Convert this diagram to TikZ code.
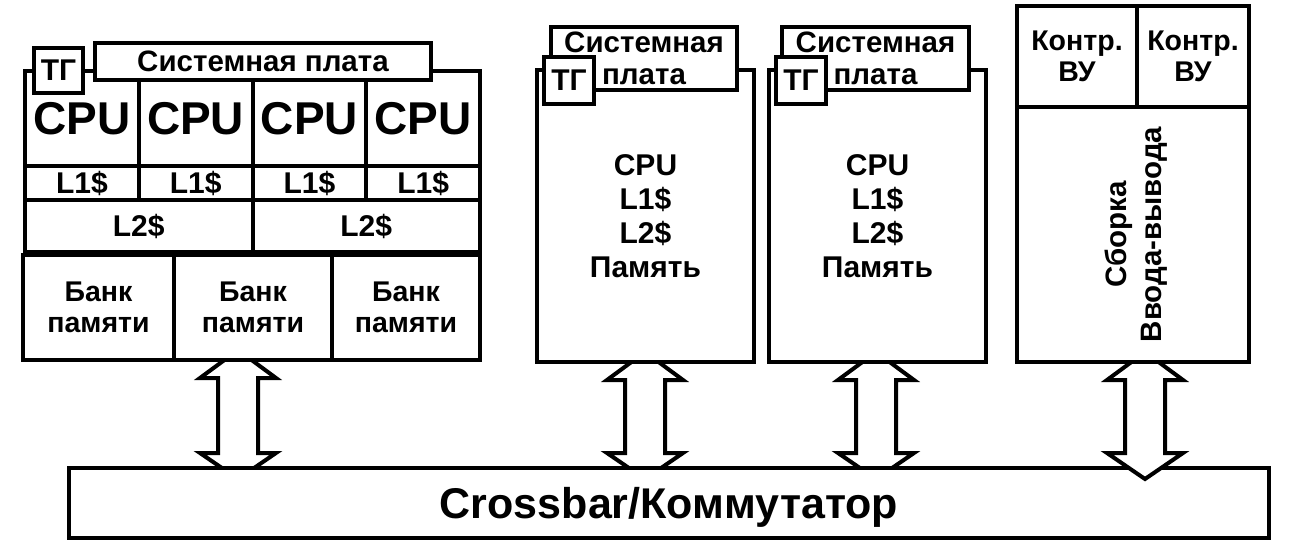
\documentclass[tikz,border=0pt]{standalone}
\usepackage{fontspec}
\setmainfont{Liberation Sans}
\usetikzlibrary{calc}

\pgfdeclarelayer{under}
\pgfdeclarelayer{bus}
\pgfdeclarelayer{over}
\pgfsetlayers{under,bus,over,main}

% hollow double arrow between a box (#2) and the crossbar (#3) at x=#1
\newcommand{\busarrow}[3]{%
  \draw[fatarrow] ($(#1,0 |- #2.south)+(0,-12)$) -- ++(38,28) -- ++(-18,0)
    -- ($(#1,0 |- #3.north)+(20,-13)$) -- ++(18,0) -- ++(-38,26) -- ++(-38,-26) -- ++(18,0)
    -- ($(#1,0 |- #2.south)+(-20,16)$) -- ++(-18,0) -- cycle;
}

\begin{document}
\begin{tikzpicture}[x=1pt, y=-1pt,
    box/.style={draw, line width=4pt, fill=white, inner sep=0pt, align=center,
                font=\bfseries\fontsize{30}{34}\selectfont},
    big/.style={font=\bfseries\fontsize{46}{50}\selectfont},
    small/.style={font=\bfseries\fontsize{28.5}{31.5}\selectfont},
    plate/.style={font=\bfseries\fontsize{29.5}{32}\selectfont},
    fatarrow/.style={draw, fill=white, line width=4pt}]
    \useasboundingbox (0,0) rectangle (1298,545);

    % four-core system board
    \foreach \i in {1,...,4} {
        \node[box, big, minimum width=113.75pt, minimum height=95pt] (cpu\i) at (-31.875+113.75*\i,118.5) {CPU};
        \node[box, minimum width=113.75pt, minimum height=34pt] (lone\i) at (-31.875+113.75*\i,183) {L1\$};
    }
    \node[box, minimum width=227.5pt, minimum height=52pt] (ltwoA) at (138.75,226) {L2\$};
    \node[box, minimum width=227.5pt, minimum height=52pt] (ltwoB) at (366.25,226) {L2\$};
    \node[box, small, minimum width=151pt, minimum height=105pt] (bank1) at (98.5,307.5) {Банк\\памяти};
    \node[box, small, minimum width=158pt, minimum height=105pt] (bank2) at (253,307.5) {Банк\\памяти};
    \node[box, small, minimum width=148pt, minimum height=105pt] (bank3) at (406,307.5) {Банк\\памяти};
    \node[box, plate, minimum width=336pt, minimum height=37pt] (plataA) at (263,61.5) {Системная плата};
    \node[box, minimum width=49pt, minimum height=45pt] (tgA) at (58.5,70.5) {ТГ};

    % single nodes
    \node[box, minimum width=217pt, minimum height=292pt] (nodeB) at (645.5,216) {CPU\\L1\$\\L2\$\\Память};
    \node[box, plate, minimum width=186pt, minimum height=63pt] (plataB) at (644,58.5) {Системная\\плата};
    \node[box, minimum width=50pt, minimum height=47pt] (tgB) at (569,80.5) {ТГ};

    \node[box, minimum width=217pt, minimum height=292pt] (nodeC) at (877.5,216) {CPU\\L1\$\\L2\$\\Память};
    \node[box, plate, minimum width=187pt, minimum height=63pt] (plataC) at (875.5,58.5) {Системная\\плата};
    \node[box, minimum width=50pt, minimum height=47pt] (tgC) at (801,80.5) {ТГ};

    % I/O assembly
    \node[box, small, minimum width=120pt, minimum height=101pt] (ctlA) at (1077,56.5) {Контр.\\ВУ};
    \node[box, small, minimum width=112pt, minimum height=101pt] (ctlB) at (1193,56.5) {Контр.\\ВУ};
    \node[box, minimum width=232pt, minimum height=255pt] (io) at (1133,234.5) {};
    \node[rotate=90, align=center, inner sep=0pt, text depth=0pt,
          font=\bfseries\fontsize{29.5}{35}\selectfont] (iotext) at (io.center) {Сборка\\Ввода-вывода};

    \begin{pgfonlayer}{bus}
        \node[box, minimum width=1200pt, minimum height=70pt, text depth=0pt,
              font=\bfseries\fontsize{43}{46}\selectfont] (xbar) at (669,503) {Crossbar/Коммутатор};
    \end{pgfonlayer}

    \begin{pgfonlayer}{under}
        \busarrow{238}{bank2}{xbar}
        \busarrow{645}{nodeB}{xbar}
        \busarrow{876}{nodeC}{xbar}
    \end{pgfonlayer}
    \begin{pgfonlayer}{over}
        \busarrow{1145}{io}{xbar}
    \end{pgfonlayer}
\end{tikzpicture}
\end{document}
